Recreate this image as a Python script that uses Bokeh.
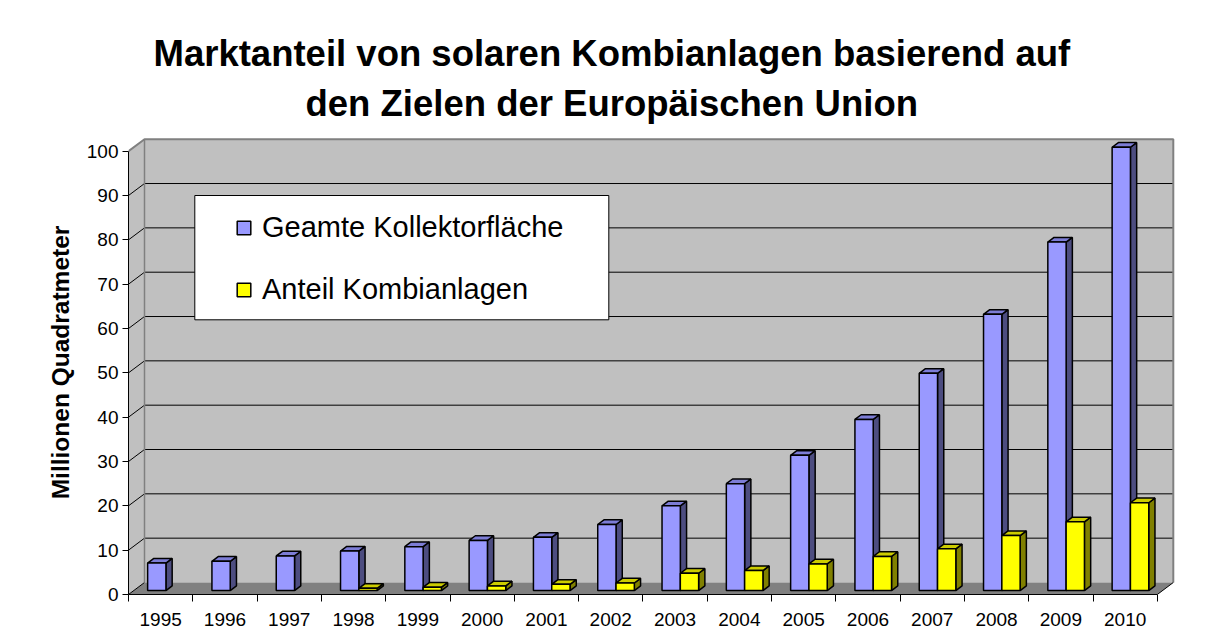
import numpy as np
from bokeh.plotting import figure
from bokeh.models import (Range1d, FixedTicker, Legend, LegendItem, Title, ColumnDataSource,
                          BoxAnnotation)
from bokeh.embed import file_html
from bokeh.resources import INLINE

# ---------------- data ----------------
years = ["1995", "1996", "1997", "1998", "1999", "2000", "2001", "2002",
         "2003", "2004", "2005", "2006", "2007", "2008", "2009", "2010"]
gesamt = [6.2, 6.6, 7.8, 8.9, 9.9, 11.3, 12.0, 14.9,
          19.1, 24.1, 30.5, 38.6, 49.0, 62.3, 78.6, 100.0]
kombi = [0.0, 0.0, 0.0, 0.5, 0.75, 1.05, 1.4, 1.7,
         3.9, 4.5, 6.0, 7.7, 9.4, 12.4, 15.5, 19.8]
y_ticks = [0, 10, 20, 30, 40, 50, 60, 70, 80, 90, 100]
series_labels = ["Geamte Kollektorfläche", "Anteil Kombianlagen"]
title_line1 = "Marktanteil von solaren Kombianlagen basierend auf"
title_line2 = "den Zielen der Europäischen Union"
y_label = "Millionen Quadratmeter"

# ---------------- layout ----------------
FONT = "Liberation Sans"
W, H = 1200, 632
LB, RB, TB, BB = 128, 11, 130, 38
frame_w = W - LB - RB
frame_h = H - TB - BB
cat_px = 64.3          # pixels per category
val_px = 4.433         # pixels per value unit
n = len(years)
y_top = max(y_ticks)
x_end = frame_w / cat_px
y_end = frame_h / val_px

wall_dx = 16 / cat_px
wall_dy = 12 / val_px
bar_front, bar_back = 0.33, 0.72
bar_w = 18.3 / cat_px
off_x = wall_dx * bar_front
base = wall_dy * bar_front
ddx = wall_dx * (bar_back - bar_front)
ddy = wall_dy * (bar_back - bar_front)

p = figure(width=W, height=H, x_range=Range1d(0, x_end), y_range=Range1d(0, y_end),
           output_backend="svg", toolbar_location=None, title=None,
           min_border_left=LB, min_border_right=RB, min_border_top=TB, min_border_bottom=BB)
p.outline_line_color = None
p.grid.visible = False
p.background_fill_color = "white"
p.border_fill_color = "white"


def px_x(px):
    return (px - LB) / cat_px


def px_y(py):
    return ((H - BB) - py) / val_px


# outer chart-area border (only its top and left edges fall inside the window)
p.add_layout(BoxAnnotation(left=px_x(8), right=px_x(W + 60), top=px_y(6), bottom=px_y(H + 60),
                           fill_alpha=0, line_color="#333333", line_width=2, level="overlay"))

# ---------------- walls & floor ----------------
p.patch([wall_dx, n + wall_dx, n + wall_dx, wall_dx],
        [wall_dy, wall_dy, y_top + wall_dy, y_top + wall_dy],
        fill_color="#C0C0C0", line_color=None)
p.patch([0, wall_dx, wall_dx, 0], [0, wall_dy, y_top + wall_dy, y_top],
        fill_color="#C0C0C0", line_color=None)
p.patch([0, n, n + wall_dx, wall_dx], [0, 0, wall_dy, wall_dy],
        fill_color="#808080", line_color=None)

grid_vals = [t for t in y_ticks if 0 < t < y_top]
p.multi_line([[wall_dx, n + wall_dx] for t in grid_vals],
             [[t + wall_dy, t + wall_dy] for t in grid_vals],
             line_color="black", line_width=1)
p.multi_line([[0, wall_dx] for t in y_ticks if t < y_top],
             [[t, t + wall_dy] for t in y_ticks if t < y_top],
             line_color="black", line_width=1)
# wall edges (grey)
p.line([0, wall_dx, n + wall_dx, n + wall_dx],
       [y_top, y_top + wall_dy, y_top + wall_dy, wall_dy],
       line_color="#808080", line_width=2)
p.line([wall_dx, wall_dx], [wall_dy, y_top + wall_dy], line_color="#808080", line_width=1.5)
p.line([n, n + wall_dx], [0, wall_dy], line_color="black", line_width=1)

# ---------------- legend box ----------------
p.quad(left=px_x(194.3), right=px_x(608.3), top=px_y(195), bottom=px_y(319.3),
       fill_color="white", line_color="black", line_width=1)

# ---------------- 3D bars ----------------
centers = np.arange(n) + 0.5


def draw_bars(values, lefts, c_front, c_top, c_side):
    v = np.asarray(values, dtype=float)
    keep = v > 0
    l = lefts[keep]
    r = l + bar_w
    top = v[keep] + base
    side_xs = [[ri, ri + ddx, ri + ddx, ri] for ri in r]
    side_ys = [[base, base + ddy, ti + ddy, ti] for ti in top]
    top_xs = [[li, ri, ri + ddx, li + ddx] for li, ri in zip(l, r)]
    top_ys = [[ti, ti, ti + ddy, ti + ddy] for ti in top]
    p.patches(side_xs, side_ys, fill_color=c_side, line_color="black", line_width=1.5)
    p.patches(top_xs, top_ys, fill_color=c_top, line_color="black", line_width=1.5)
    src = ColumnDataSource(dict(x=(l + r) / 2, top=top, bottom=np.full(len(top), base)))
    return p.vbar(x="x", top="top", bottom="bottom", width=bar_w, source=src,
                  fill_color=c_front, line_color="black", line_width=1.5)


blue_left = centers - bar_w + off_x
yel_left = centers + off_x
r_blue = draw_bars(gesamt, blue_left, "#9999FF", "#7D7DD6", "#4D4D80")
r_yel = draw_bars(kombi, yel_left, "#FFFF00", "#CCCC00", "#808000")

# ---------------- legend ----------------
legend = Legend(items=[LegendItem(label=series_labels[0], renderers=[r_blue]),
                       LegendItem(label=series_labels[1], renderers=[r_yel])],
                location=(93, 273.2), padding=14, spacing=28, margin=0,
                glyph_width=17, glyph_height=17, label_standoff=10, label_height=34,
                label_text_font=FONT, label_text_font_size="29px", label_text_color="black",
                background_fill_alpha=0, border_line_alpha=0)
p.add_layout(legend)

# ---------------- axes ----------------
ya = p.yaxis[0]
ya.ticker = FixedTicker(ticks=y_ticks)
ya.bounds = (0, y_top)
ya.axis_line_color = "black"
ya.major_tick_out = 6
ya.major_tick_in = 0
ya.minor_tick_line_color = None
ya.major_label_standoff = 4
ya.major_label_text_font = FONT
ya.major_label_text_font_size = "19px"
ya.major_label_text_color = "black"
ya.axis_label = y_label
ya.axis_label_text_font = FONT
ya.axis_label_text_font_size = "24.5px"
ya.axis_label_text_font_style = "bold"
ya.axis_label_text_color = "black"
ya.axis_label_standoff = 10

xa = p.xaxis[0]
xa.ticker = FixedTicker(ticks=list(centers), minor_ticks=list(range(n + 1)))
xa.major_label_overrides = {float(c): y for c, y in zip(centers, years)}
xa.bounds = (0, n)
xa.axis_line_color = "black"
xa.major_tick_out = 0
xa.major_tick_in = 0
xa.minor_tick_out = 7
xa.minor_tick_in = 0
xa.minor_tick_line_color = "black"
xa.major_label_standoff = 11
xa.major_label_text_font = FONT
xa.major_label_text_font_size = "19px"
xa.major_label_text_color = "black"

# ---------------- titles ----------------
t2 = Title(text=title_line2, align="left", offset=177, standoff=13,
           text_font=FONT, text_font_size="36.5px", text_font_style="bold", text_color="black")
t1 = Title(text=title_line1, align="left", offset=25, standoff=1,
           text_font=FONT, text_font_size="36.5px", text_font_style="bold", text_color="black")
p.add_layout(t2, "above")
p.add_layout(t1, "above")

open("out.html", "w").write(file_html(p, INLINE))
